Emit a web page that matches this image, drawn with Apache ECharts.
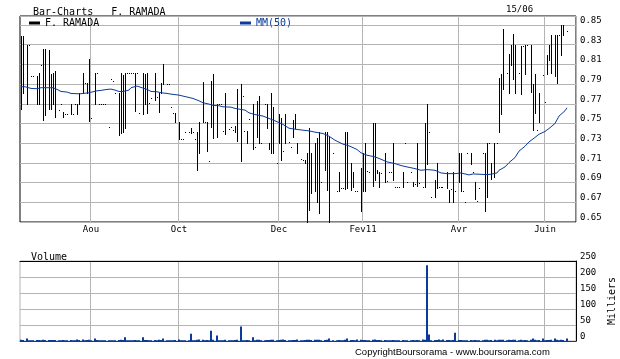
<!DOCTYPE html>
<html><head><meta charset="utf-8">
<script src="https://cdn.jsdelivr.net/npm/echarts@6/dist/echarts.min.js"></script>
<style>html,body{margin:0;padding:0;background:#fff}#c{width:620px;height:359px}</style>
</head><body><div id="c"></div>
<script>
// ---- data ----
const SLOT_COUNT = 278; // trading-session slots across the x axis
const monthSlots  = [35, 79, 129, 171, 219, 262];
const monthLabels = ['Aou', 'Oct', 'Dec', 'Fev11', 'Avr', 'Juin'];
const lastDate = '15/06';
const priceMin = 0.65, priceStep = 0.02;

const barSlot = [
  0,1,3,4,5,6,8,9,10,11,
  12,14,15,16,17,19,20,21,22,23,
  25,26,27,28,29,31,32,33,34,35,
  37,38,39,40,41,42,44,45,46,47,
  49,50,51,52,53,54,55,56,57,58,
  59,61,62,63,64,65,67,68,69,70,
  71,73,74,75,76,77,79,80,81,82,
  84,85,86,87,88,89,91,92,93,94,
  95,96,98,99,100,101,102,104,105,106,
  107,108,110,111,112,113,114,116,117,118,
  119,120,122,123,124,125,126,128,129,130,
  131,132,134,135,136,137,138,140,141,142,
  143,144,145,147,148,149,150,152,153,154,
  156,158,159,160,161,162,163,165,166,167,
  168,170,171,172,173,174,176,177,178,179,
  180,182,183,184,185,186,187,188,189,191,
  192,193,195,196,197,198,199,201,202,203,
  204,205,207,208,209,210,211,213,214,215,
  216,217,219,220,221,222,223,225,226,227,
  228,229,231,232,233,234,235,237,238,239,
  240,241,243,244,245,246,247,249,250,251,
  252,253,255,256,257,258,259,261,262,263,
  264,265,267,268,269,270,271,273
];
const barHigh = [
  .839,.839,.830,.830,.798,.798,.798,.801,.809,.826,
  .826,.825,.800,.801,.803,.764,.770,.762,.760,.760,
  .770,.760,.770,.770,.781,.801,.791,.791,.815,.756,
  .801,.801,.770,.770,.770,.770,.746,.795,.793,.781,
  .781,.801,.799,.801,.801,.801,.801,.801,.801,.801,
  .761,.801,.800,.801,.771,.776,.801,.777,.781,.791,
  .810,.790,.790,.767,.761,.761,.751,.734,.734,.741,
  .741,.745,.741,.734,.741,.751,.792,.751,.751,.712,
  .793,.800,.770,.770,.770,.742,.781,.744,.746,.743,
  .747,.785,.790,.778,.742,.742,.755,.770,.726,.773,
  .778,.730,.770,.770,.730,.781,.767,.710,.760,.756,
  .722,.760,.731,.726,.754,.760,.730,.714,.713,.713,
  .720,.745,.720,.730,.735,.741,.691,.741,.741,.736,
  .720,.681,.701,.685,.685,.741,.741,.710,.701,.681,
  .681,.705,.720,.730,.702,.701,.750,.750,.703,.701,
  .700,.720,.692,.701,.701,.730,.686,.686,.686,.701,
  .730,.691,.701,.691,.689,.730,.690,.686,.750,.770,
  .741,.675,.693,.710,.686,.686,.686,.701,.682,.684,
  .701,.681,.720,.720,.681,.670,.720,.720,.701,.691,
  .671,.685,.720,.720,.730,.730,.710,.730,.730,.796,
  .800,.846,.801,.821,.830,.841,.830,.801,.829,.829,
  .830,.830,.830,.790,.800,.743,.781,.799,.772,.820,
  .830,.840,.840,.840,.840,.850,.850,.844
];
const barLow = [
  .765,.781,.770,.830,.798,.798,.770,.770,.809,.754,
  .759,.765,.765,.770,.757,.764,.770,.757,.760,.760,
  .760,.760,.770,.760,.770,.781,.791,.781,.753,.756,
  .770,.801,.770,.770,.770,.770,.746,.795,.793,.781,
  .738,.740,.741,.745,.801,.801,.801,.801,.763,.801,
  .761,.760,.770,.761,.771,.776,.774,.777,.762,.781,
  .790,.790,.790,.767,.761,.751,.734,.734,.734,.741,
  .741,.740,.741,.734,.703,.720,.751,.751,.722,.712,
  .746,.735,.736,.770,.770,.742,.739,.744,.746,.743,
  .741,.732,.712,.778,.742,.730,.755,.724,.726,.736,
  .730,.730,.770,.745,.724,.720,.720,.710,.730,.713,
  .722,.730,.731,.726,.736,.745,.720,.714,.713,.710,
  .650,.662,.679,.681,.670,.659,.691,.703,.682,.650,
  .720,.681,.681,.685,.685,.684,.685,.682,.686,.681,
  .681,.661,.681,.681,.702,.701,.687,.693,.700,.686,
  .700,.691,.692,.701,.701,.693,.686,.686,.686,.686,
  .730,.691,.701,.687,.689,.687,.690,.686,.686,.709,
  .741,.675,.675,.685,.686,.686,.686,.685,.670,.684,
  .670,.681,.691,.681,.681,.670,.720,.709,.701,.673,
  .671,.685,.720,.661,.675,.730,.694,.696,.730,.741,
  .760,.785,.801,.781,.809,.795,.781,.801,.780,.829,
  .800,.830,.782,.743,.761,.743,.751,.799,.772,.800,
  .814,.801,.798,.791,.840,.820,.840,.844
];
const barVolume = [ // thousands of shares
  4,3,8,2,2,2,3,3,2,4,
  3,3,3,3,3,2,2,3,2,2,
  3,2,2,5,3,5,2,3,4,2,
  8,3,2,2,2,2,2,2,2,2,
  3,4,3,12,2,2,2,2,3,2,
  2,12,3,3,2,2,3,2,4,3,
  8,2,2,2,2,3,5,2,2,2,
  2,23,2,2,4,5,4,2,3,2,
  32,4,17,2,2,2,4,2,2,2,
  3,4,45,2,2,3,2,12,2,4,
  4,2,2,3,3,4,4,2,3,4,
  5,3,2,2,3,3,5,2,2,3,
  4,4,3,4,4,4,2,3,4,8,
  2,2,3,2,2,4,8,3,3,2,
  5,4,3,3,2,2,4,5,3,3,
  2,3,2,2,2,3,2,2,2,3,
  2,2,2,3,2,3,2,5,4,237,
  20,2,3,3,5,2,5,3,3,2,
  3,26,3,3,2,2,2,3,2,3,
  2,2,2,4,4,2,3,4,2,4,
  4,4,2,4,3,4,4,2,4,2,
  3,2,4,8,4,2,3,8,2,3,
  3,4,8,4,2,4,3,8
];
const maSlot = [
  0,2,5,8,10,14,16,18,20,23,25,28,30,34,36,38,40,43,45,47,49,51,54,55,58,60,
  63,65,68,70,73,75,79,81,84,86,89,91,94,96,99,101,105,107,110,112,114,117,
  121,124,127,131,134,137,141,144,147,151,154,157,161,164,168,170,173,177,
  180,183,187,190,193,197,200,203,207,210,213,217,220,224,226,229,233,235,
  238,239,242,244,247,249,252,254,257,259,262,264,267,269,272,273
];
const maValue = [
  .7873,.7873,.7856,.7853,.7863,.7863,.7863,.7846,.7825,.7819,.7805,.7802,.7802,
  .7812,.7822,.7832,.7836,.7846,.7849,.7839,.7825,.7825,.7839,.7863,.7880,.7866,
  .7846,.7825,.7822,.7812,.7805,.7798,.7788,.7778,.7764,.7754,.7730,.7710,.7697,
  .7683,.7680,.7669,.7666,.7653,.7642,.7636,.7608,.7591,.7575,.7551,.7527,.7490,
  .7452,.7442,.7432,.7425,.7412,.7398,.7371,.7330,.7290,.7273,.7236,.7202,.7178,
  .7161,.7137,.7110,.7093,.7073,.7059,.7042,.7025,.7032,.7025,.6998,.6991,.6991,
  .6998,.6978,.6988,.6985,.6981,.6985,.6998,.7025,.7059,.7103,.7154,.7219,.7269,
  .7313,.7358,.7391,.7419,.7449,.7500,.7575,.7629,.7659
];

// ---- chart ----
const categories = [];
for (let i = 0; i < SLOT_COUNT; i++) categories.push(String(i));
const monthAt = {};
monthSlots.forEach((s, k) => { monthAt[s] = monthLabels[k]; });
const isMonth = (i) => monthAt[i] !== undefined;
const onStep = (v) => { const k = (v - priceMin) / priceStep; return Math.abs(k - Math.round(k)) < 1e-6; };

const MONO = 'DejaVu Sans Mono';
const GRID = '#b4b4b4';
const BLUE = '#0a3a9c';

const chart = echarts.init(document.getElementById('c'), null, { renderer: 'canvas' });
chart.setOption({
  animation: false,
  backgroundColor: '#fff',
  legend: [
    { data: [{ name: 'F. RAMADA', icon: 'rect' }], left: 29, top: 18, itemWidth: 11, itemHeight: 3,
      selectedMode: false, padding: 0, textStyle: { fontFamily: MONO, fontSize: 10, color: '#000' } },
    { data: [{ name: 'MM(50)', icon: 'rect' }], left: 240, top: 18, itemWidth: 11, itemHeight: 3,
      selectedMode: false, padding: 0, textStyle: { fontFamily: MONO, fontSize: 10, color: BLUE } }
  ],
  grid: [
    { left: 20, right: 44, top: 16, bottom: 137, show: true, borderColor: '#000', borderWidth: 1,
      containLabel: false, outerBoundsMode: 'none' },
    { left: 20, right: 44, top: 261, bottom: 18, show: true, borderColor: GRID, borderWidth: 1,
      containLabel: false, outerBoundsMode: 'none' }
  ],
  xAxis: [
    { type: 'category', gridIndex: 0, data: categories, boundaryGap: true,
      axisLine: { show: false }, axisTick: { show: false },
      axisLabel: { interval: isMonth, formatter: (v, i) => monthAt[i] || '', margin: 3,
        fontFamily: MONO, fontSize: 9, color: '#000' },
      splitLine: { show: true, interval: isMonth, lineStyle: { color: GRID, width: 1 } } },
    { type: 'category', gridIndex: 1, data: categories, boundaryGap: true,
      axisLine: { show: true, lineStyle: { color: BLUE, width: 1 } }, axisTick: { show: false },
      axisLabel: { show: false },
      splitLine: { show: true, interval: isMonth, lineStyle: { color: GRID, width: 1 } } },
    { type: 'category', gridIndex: 1, data: categories, position: 'top', boundaryGap: true,
      axisLine: { show: true, lineStyle: { color: '#000', width: 1 } }, axisTick: { show: false },
      axisLabel: { show: false }, splitLine: { show: false } }
  ],
  yAxis: [
    { type: 'value', gridIndex: 0, position: 'right', min: priceMin, max: 0.8591, interval: priceStep,
      axisLine: { show: false }, axisTick: { show: false },
      splitLine: { show: true, lineStyle: { color: GRID, width: 1 } },
      axisLabel: { margin: 4, fontFamily: MONO, fontSize: 9, color: '#000', verticalAlign: 'bottom',
        showMaxLabel: true, hideOverlap: false,
        formatter: (v) => onStep(v) ? v.toFixed(2) : '' } },
    { type: 'value', gridIndex: 1, position: 'right', min: 0, max: 250, interval: 50,
      axisLine: { show: true, lineStyle: { color: '#000', width: 1 } }, axisTick: { show: false },
      splitLine: { show: true, lineStyle: { color: GRID, width: 1 } },
      axisLabel: { margin: 4, fontFamily: MONO, fontSize: 9, color: '#000', verticalAlign: 'bottom' },
      name: 'Milliers', nameLocation: 'middle', nameRotate: 90, nameGap: 31,
      nameTextStyle: { fontFamily: MONO, fontSize: 10, color: '#000' } }
  ],
  series: [
    { name: 'F. RAMADA', type: 'custom', xAxisIndex: 0, yAxisIndex: 0,
      itemStyle: { color: '#000' },
      data: barSlot.map((s, i) => [s, barLow[i], barHigh[i]]),
      encode: { x: 0, y: [1, 2] },
      renderItem: function (params, api) {
        const s = api.value(0);
        const top = api.coord([s, api.value(2)]);
        const bot = api.coord([s, api.value(1)]);
        const x = Math.floor(top[0]);
        const y1 = Math.round(top[1]);
        const y2 = Math.round(bot[1]);
        return { type: 'rect', shape: { x: x, y: y1, width: 1, height: Math.max(1, y2 - y1 + 1) },
          style: { fill: '#000' } };
      } },
    { name: 'MM(50)', type: 'line', xAxisIndex: 0, yAxisIndex: 0,
      data: maSlot.map((s, i) => [s, maValue[i]]),
      showSymbol: false, symbol: 'none', itemStyle: { color: BLUE },
      lineStyle: { color: BLUE, width: 1 } },
    { name: 'Volume', type: 'bar', xAxisIndex: 1, yAxisIndex: 1,
      data: barSlot.map((s, i) => [s, barVolume[i]]),
      barWidth: 2, itemStyle: { color: BLUE } }
  ],
  graphic: [
    { type: 'text', left: 33, top: 7, style: { text: 'Bar-Charts   F. RAMADA', font: '10px ' + MONO, fill: '#000' } },
    { type: 'text', left: 506, top: 5, style: { text: lastDate, font: '9px ' + MONO, fill: '#000' } },
    { type: 'text', left: 31, top: 252, style: { text: 'Volume', font: '10px ' + MONO, fill: '#000' } },
    { type: 'text', left: 355, top: 347, style: { text: 'CopyrightBoursorama - www.boursorama.com', font: '9.5px "Liberation Sans"', fill: '#000' } }
  ]
});
</script>
</body></html>
